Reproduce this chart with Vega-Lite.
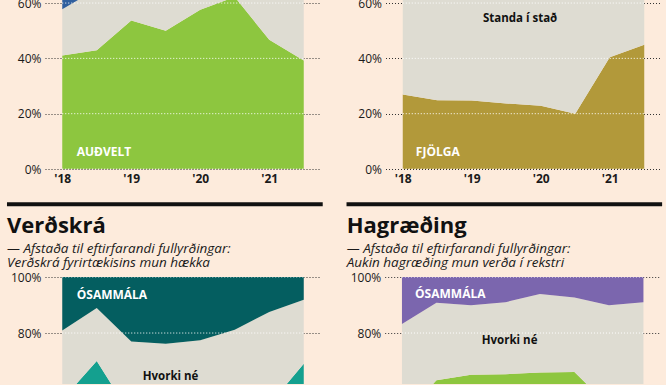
{
  "$schema": "https://vega.github.io/schema/vega-lite/v6.json",
  "background": "#fdebdc",
  "padding": {"left": 6, "top": -3, "right": 6, "bottom": 0},
  "datasets": {
    "d": [
      {"p": "A", "t": 2018.0, "s": "Auðvelt", "k": 1, "v": 41.0},
      {"p": "A", "t": 2018.5, "s": "Auðvelt", "k": 1, "v": 42.9},
      {"p": "A", "t": 2019.0, "s": "Auðvelt", "k": 1, "v": 53.7},
      {"p": "A", "t": 2019.5, "s": "Auðvelt", "k": 1, "v": 50.0},
      {"p": "A", "t": 2020.0, "s": "Auðvelt", "k": 1, "v": 57.6},
      {"p": "A", "t": 2020.5, "s": "Auðvelt", "k": 1, "v": 62.2},
      {"p": "A", "t": 2021.0, "s": "Auðvelt", "k": 1, "v": 46.7},
      {"p": "A", "t": 2021.5, "s": "Auðvelt", "k": 1, "v": 39.2},
      {"p": "A", "t": 2018.0, "s": "Hvorki né", "k": 2, "v": 16.8},
      {"p": "A", "t": 2018.5, "s": "Hvorki né", "k": 2, "v": 22.1},
      {"p": "A", "t": 2019.0, "s": "Hvorki né", "k": 2, "v": 16.3},
      {"p": "A", "t": 2019.5, "s": "Hvorki né", "k": 2, "v": 18.0},
      {"p": "A", "t": 2020.0, "s": "Hvorki né", "k": 2, "v": 14.4},
      {"p": "A", "t": 2020.5, "s": "Hvorki né", "k": 2, "v": 12.8},
      {"p": "A", "t": 2021.0, "s": "Hvorki né", "k": 2, "v": 23.3},
      {"p": "A", "t": 2021.5, "s": "Hvorki né", "k": 2, "v": 26.8},
      {"p": "A", "t": 2018.0, "s": "Erfitt", "k": 3, "v": 42.2},
      {"p": "A", "t": 2018.5, "s": "Erfitt", "k": 3, "v": 35.0},
      {"p": "A", "t": 2019.0, "s": "Erfitt", "k": 3, "v": 30.0},
      {"p": "A", "t": 2019.5, "s": "Erfitt", "k": 3, "v": 32.0},
      {"p": "A", "t": 2020.0, "s": "Erfitt", "k": 3, "v": 28.0},
      {"p": "A", "t": 2020.5, "s": "Erfitt", "k": 3, "v": 25.0},
      {"p": "A", "t": 2021.0, "s": "Erfitt", "k": 3, "v": 30.0},
      {"p": "A", "t": 2021.5, "s": "Erfitt", "k": 3, "v": 34.0},

      {"p": "B", "t": 2018.0, "s": "Fjölga", "k": 1, "v": 26.9},
      {"p": "B", "t": 2018.5, "s": "Fjölga", "k": 1, "v": 24.9},
      {"p": "B", "t": 2019.0, "s": "Fjölga", "k": 1, "v": 24.8},
      {"p": "B", "t": 2019.5, "s": "Fjölga", "k": 1, "v": 23.7},
      {"p": "B", "t": 2020.0, "s": "Fjölga", "k": 1, "v": 22.9},
      {"p": "B", "t": 2020.5, "s": "Fjölga", "k": 1, "v": 20.0},
      {"p": "B", "t": 2021.0, "s": "Fjölga", "k": 1, "v": 40.4},
      {"p": "B", "t": 2021.5, "s": "Fjölga", "k": 1, "v": 44.9},
      {"p": "B", "t": 2018.0, "s": "Standa í stað", "k": 2, "v": 55.1},
      {"p": "B", "t": 2018.5, "s": "Standa í stað", "k": 2, "v": 55.1},
      {"p": "B", "t": 2019.0, "s": "Standa í stað", "k": 2, "v": 56.2},
      {"p": "B", "t": 2019.5, "s": "Standa í stað", "k": 2, "v": 55.3},
      {"p": "B", "t": 2020.0, "s": "Standa í stað", "k": 2, "v": 55.1},
      {"p": "B", "t": 2020.5, "s": "Standa í stað", "k": 2, "v": 52.0},
      {"p": "B", "t": 2021.0, "s": "Standa í stað", "k": 2, "v": 47.6},
      {"p": "B", "t": 2021.5, "s": "Standa í stað", "k": 2, "v": 45.1},
      {"p": "B", "t": 2018.0, "s": "Fækka", "k": 3, "v": 18.0},
      {"p": "B", "t": 2018.5, "s": "Fækka", "k": 3, "v": 20.0},
      {"p": "B", "t": 2019.0, "s": "Fækka", "k": 3, "v": 19.0},
      {"p": "B", "t": 2019.5, "s": "Fækka", "k": 3, "v": 21.0},
      {"p": "B", "t": 2020.0, "s": "Fækka", "k": 3, "v": 22.0},
      {"p": "B", "t": 2020.5, "s": "Fækka", "k": 3, "v": 28.0},
      {"p": "B", "t": 2021.0, "s": "Fækka", "k": 3, "v": 12.0},
      {"p": "B", "t": 2021.5, "s": "Fækka", "k": 3, "v": 10.0},

      {"p": "C", "t": 2018.0, "s": "Sammála", "k": 1, "v": 56.2},
      {"p": "C", "t": 2018.5, "s": "Sammála", "k": 1, "v": 70.0},
      {"p": "C", "t": 2019.0, "s": "Sammála", "k": 1, "v": 50.5},
      {"p": "C", "t": 2019.5, "s": "Sammála", "k": 1, "v": 48.0},
      {"p": "C", "t": 2020.0, "s": "Sammála", "k": 1, "v": 50.0},
      {"p": "C", "t": 2020.5, "s": "Sammála", "k": 1, "v": 52.0},
      {"p": "C", "t": 2021.0, "s": "Sammála", "k": 1, "v": 54.4},
      {"p": "C", "t": 2021.5, "s": "Sammála", "k": 1, "v": 69.0},
      {"p": "C", "t": 2018.0, "s": "Hvorki né", "k": 2, "v": 24.7},
      {"p": "C", "t": 2018.5, "s": "Hvorki né", "k": 2, "v": 18.9},
      {"p": "C", "t": 2019.0, "s": "Hvorki né", "k": 2, "v": 26.5},
      {"p": "C", "t": 2019.5, "s": "Hvorki né", "k": 2, "v": 28.2},
      {"p": "C", "t": 2020.0, "s": "Hvorki né", "k": 2, "v": 27.4},
      {"p": "C", "t": 2020.5, "s": "Hvorki né", "k": 2, "v": 29.2},
      {"p": "C", "t": 2021.0, "s": "Hvorki né", "k": 2, "v": 33.1},
      {"p": "C", "t": 2021.5, "s": "Hvorki né", "k": 2, "v": 22.9},
      {"p": "C", "t": 2018.0, "s": "Ósammála", "k": 3, "v": 19.1},
      {"p": "C", "t": 2018.5, "s": "Ósammála", "k": 3, "v": 11.1},
      {"p": "C", "t": 2019.0, "s": "Ósammála", "k": 3, "v": 23.0},
      {"p": "C", "t": 2019.5, "s": "Ósammála", "k": 3, "v": 23.8},
      {"p": "C", "t": 2020.0, "s": "Ósammála", "k": 3, "v": 22.6},
      {"p": "C", "t": 2020.5, "s": "Ósammála", "k": 3, "v": 18.8},
      {"p": "C", "t": 2021.0, "s": "Ósammála", "k": 3, "v": 12.5},
      {"p": "C", "t": 2021.5, "s": "Ósammála", "k": 3, "v": 8.1},

      {"p": "D", "t": 2018.0, "s": "Sammála", "k": 1, "v": 50.0},
      {"p": "D", "t": 2018.5, "s": "Sammála", "k": 1, "v": 63.1},
      {"p": "D", "t": 2019.0, "s": "Sammála", "k": 1, "v": 65.1},
      {"p": "D", "t": 2019.5, "s": "Sammála", "k": 1, "v": 65.3},
      {"p": "D", "t": 2020.0, "s": "Sammála", "k": 1, "v": 65.9},
      {"p": "D", "t": 2020.5, "s": "Sammála", "k": 1, "v": 66.1},
      {"p": "D", "t": 2021.0, "s": "Sammála", "k": 1, "v": 53.9},
      {"p": "D", "t": 2021.5, "s": "Sammála", "k": 1, "v": 52.0},
      {"p": "D", "t": 2018.0, "s": "Hvorki né", "k": 2, "v": 33.2},
      {"p": "D", "t": 2018.5, "s": "Hvorki né", "k": 2, "v": 27.7},
      {"p": "D", "t": 2019.0, "s": "Hvorki né", "k": 2, "v": 24.8},
      {"p": "D", "t": 2019.5, "s": "Hvorki né", "k": 2, "v": 25.7},
      {"p": "D", "t": 2020.0, "s": "Hvorki né", "k": 2, "v": 28.0},
      {"p": "D", "t": 2020.5, "s": "Hvorki né", "k": 2, "v": 26.6},
      {"p": "D", "t": 2021.0, "s": "Hvorki né", "k": 2, "v": 36.0},
      {"p": "D", "t": 2021.5, "s": "Hvorki né", "k": 2, "v": 39.0},
      {"p": "D", "t": 2018.0, "s": "Ósammála", "k": 3, "v": 16.8},
      {"p": "D", "t": 2018.5, "s": "Ósammála", "k": 3, "v": 9.2},
      {"p": "D", "t": 2019.0, "s": "Ósammála", "k": 3, "v": 10.1},
      {"p": "D", "t": 2019.5, "s": "Ósammála", "k": 3, "v": 9.0},
      {"p": "D", "t": 2020.0, "s": "Ósammála", "k": 3, "v": 6.1},
      {"p": "D", "t": 2020.5, "s": "Ósammála", "k": 3, "v": 7.3},
      {"p": "D", "t": 2021.0, "s": "Ósammála", "k": 3, "v": 10.1},
      {"p": "D", "t": 2021.5, "s": "Ósammála", "k": 3, "v": 9.0}
    ],
    "gTop": [{"g": 0}, {"g": 20}, {"g": 40}, {"g": 60}],
    "gBot": [{"g": 80}, {"g": 100}]
  },
  "config": {
    "view": {"stroke": null},
    "font": "Open Sans",
    "axis": {
      "domain": false,
      "ticks": false,
      "title": null,
      "labelFont": "Open Sans",
      "labelColor": "#1a1a1a",
      "labelFontSize": 12
    },
    "axisY": {
      "grid": true,
      "gridColor": "#333333",
      "gridDash": [1, 2],
      "gridWidth": 1,
      "labelPadding": 4,
      "minExtent": 38
    },
    "axisX": {
      "grid": false,
      "labelFontWeight": "bold",
      "labelPadding": 4,
      "labelFlush": false
    },
    "title": {
      "anchor": "start",
      "frame": "bounds",
      "font": "Open Sans",
      "fontSize": 22,
      "fontWeight": "bold",
      "color": "#111111",
      "subtitleFont": "Open Sans",
      "subtitleFontSize": 13.5,
      "subtitleFontStyle": "italic",
      "subtitleColor": "#1a1a1a",
      "subtitleLineHeight": 14,
      "subtitlePadding": 4,
      "offset": 1
    }
  },
  "resolve": {"scale": {"color": "independent"}},
  "vconcat": [
    {
      "resolve": {"scale": {"color": "independent"}},
      "hconcat": [
        {
          "width": 276, "height": 169,
          "layer": [
            {
              "data": {"name": "d"},
              "transform": [{"filter": "datum.p == 'A'"}],
              "mark": {"type": "area", "clip": true},
              "encoding": {
                "x": {"field": "t", "type": "quantitative", "scale": {"domain": [2017.75, 2021.75], "nice": false, "zero": false}, "axis": {"values": [2018, 2019, 2020, 2021], "labelExpr": "\"'\" + substring(toString(datum.value), 2)"}},
                "y": {"field": "v", "type": "quantitative", "stack": "zero", "scale": {"domain": [0, 61.1], "nice": false}, "axis": {"values": [0, 20, 40, 60], "labelExpr": "datum.value + '%'"}},
                "color": {"field": "s", "type": "nominal", "scale": {"domain": ["Auðvelt", "Hvorki né", "Erfitt"], "range": ["#8dc63f", "#dedcd2", "#2f5f9e"]}, "legend": null},
                "order": {"field": "k", "type": "quantitative"}
              }
            },
            {
              "data": {"name": "gTop"},
              "mark": {"type": "rule", "color": "#ffffff", "strokeDash": [1, 2], "strokeWidth": 1, "clip": true},
              "encoding": {"y": {"field": "g", "type": "quantitative"}, "x": {"datum": 2018}, "x2": {"datum": 2021.5}}
            },
            {
              "data": {"values": [{"lab": "AUÐVELT"}]},
              "mark": {"type": "text", "align": "left", "baseline": "middle", "color": "#ffffff", "fontWeight": "bold", "fontSize": 12},
              "encoding": {"x": {"datum": 2018.21}, "y": {"datum": 6}, "text": {"field": "lab"}}
            },
            {
              "data": {"values": [{"part": "separator"}]},
              "mark": {"type": "rule", "color": "#111111", "strokeWidth": 4, "strokeCap": "square", "clip": false},
              "encoding": {"x": {"datum": 2017.228}, "x2": {"datum": 2021.746}, "y": {"datum": -12.75}}
            }
          ]
        },
        {
          "width": 276, "height": 169,
          "layer": [
            {
              "data": {"name": "d"},
              "transform": [{"filter": "datum.p == 'B'"}],
              "mark": {"type": "area", "clip": true},
              "encoding": {
                "x": {"field": "t", "type": "quantitative", "scale": {"domain": [2017.75, 2021.75], "nice": false, "zero": false}, "axis": {"values": [2018, 2019, 2020, 2021], "labelExpr": "\"'\" + substring(toString(datum.value), 2)"}},
                "y": {"field": "v", "type": "quantitative", "stack": "zero", "scale": {"domain": [0, 61.1], "nice": false}, "axis": {"values": [0, 20, 40, 60], "labelExpr": "datum.value + '%'"}},
                "color": {"field": "s", "type": "nominal", "scale": {"domain": ["Fjölga", "Standa í stað", "Fækka"], "range": ["#b2993a", "#dedcd2", "#8a3a2a"]}, "legend": null},
                "order": {"field": "k", "type": "quantitative"}
              }
            },
            {
              "data": {"name": "gTop"},
              "mark": {"type": "rule", "color": "#ffffff", "strokeDash": [1, 2], "strokeWidth": 1, "clip": true},
              "encoding": {"y": {"field": "g", "type": "quantitative"}, "x": {"datum": 2018}, "x2": {"datum": 2021.5}}
            },
            {
              "data": {"values": [{"lab": "FJÖLGA"}]},
              "mark": {"type": "text", "align": "left", "baseline": "middle", "color": "#ffffff", "fontWeight": "bold", "fontSize": 12},
              "encoding": {"x": {"datum": 2018.19}, "y": {"datum": 6}, "text": {"field": "lab"}}
            },
            {
              "data": {"values": [{"lab": "Standa í stað"}]},
              "mark": {"type": "text", "align": "center", "baseline": "middle", "color": "#111111", "fontWeight": "bold", "fontSize": 11.5},
              "encoding": {"x": {"datum": 2019.7}, "y": {"datum": 54.4}, "text": {"field": "lab"}}
            },
            {
              "data": {"values": [{"part": "separator"}]},
              "mark": {"type": "rule", "color": "#111111", "strokeWidth": 4, "strokeCap": "square", "clip": false},
              "encoding": {"x": {"datum": 2017.214}, "x2": {"datum": 2021.73}, "y": {"datum": -12.75}}
            }
          ]
        }
      ],
      "spacing": 21.5
    },
    {
      "resolve": {"scale": {"color": "independent"}},
      "hconcat": [
        {
          "width": 276, "height": 107,
          "title": {"text": "Verðskrá", "subtitle": ["— Afstaða til eftirfarandi fullyrðingar:", "Verðskrá fyrirtækisins mun hækka"]},
          "layer": [
            {
              "data": {"name": "d"},
              "transform": [{"filter": "datum.p == 'C'"}],
              "mark": {"type": "area", "clip": true},
              "encoding": {
                "x": {"field": "t", "type": "quantitative", "scale": {"domain": [2017.75, 2021.75], "nice": false, "zero": false}, "axis": {"values": [2018, 2019, 2020, 2021], "labelExpr": "\"'\" + substring(toString(datum.value), 2)"}},
                "y": {"field": "v", "type": "quantitative", "stack": "zero", "scale": {"domain": [61.8, 100], "nice": false}, "axis": {"values": [80, 100], "labelExpr": "datum.value + '%'"}},
                "color": {"field": "s", "type": "nominal", "scale": {"domain": ["Sammála", "Hvorki né", "Ósammála"], "range": ["#14a08f", "#dedcd2", "#045e60"]}, "legend": null},
                "order": {"field": "k", "type": "quantitative"}
              }
            },
            {
              "data": {"name": "gBot"},
              "mark": {"type": "rule", "color": "#ffffff", "strokeDash": [1, 2], "strokeWidth": 1, "clip": true},
              "encoding": {"y": {"field": "g", "type": "quantitative"}, "x": {"datum": 2018}, "x2": {"datum": 2021.5}}
            },
            {
              "data": {"values": [{"lab": "ÓSAMMÁLA"}]},
              "mark": {"type": "text", "align": "left", "baseline": "middle", "color": "#ffffff", "fontWeight": "bold", "fontSize": 12},
              "encoding": {"x": {"datum": 2018.21}, "y": {"datum": 93.7}, "text": {"field": "lab"}}
            },
            {
              "data": {"values": [{"lab": "Hvorki né"}]},
              "mark": {"type": "text", "align": "center", "baseline": "middle", "color": "#111111", "fontWeight": "bold", "fontSize": 11.5},
              "encoding": {"x": {"datum": 2019.57}, "y": {"datum": 64.3}, "text": {"field": "lab"}}
            }
          ]
        },
        {
          "width": 276, "height": 107,
          "title": {"text": "Hagræðing", "subtitle": ["— Afstaða til eftirfarandi fullyrðingar:", "Aukin hagræðing mun verða í rekstri"]},
          "layer": [
            {
              "data": {"name": "d"},
              "transform": [{"filter": "datum.p == 'D'"}],
              "mark": {"type": "area", "clip": true},
              "encoding": {
                "x": {"field": "t", "type": "quantitative", "scale": {"domain": [2017.75, 2021.75], "nice": false, "zero": false}, "axis": {"values": [2018, 2019, 2020, 2021], "labelExpr": "\"'\" + substring(toString(datum.value), 2)"}},
                "y": {"field": "v", "type": "quantitative", "stack": "zero", "scale": {"domain": [61.8, 100], "nice": false}, "axis": {"values": [80, 100], "labelExpr": "datum.value + '%'"}},
                "color": {"field": "s", "type": "nominal", "scale": {"domain": ["Sammála", "Hvorki né", "Ósammála"], "range": ["#8dc63f", "#dedcd2", "#7b66ae"]}, "legend": null},
                "order": {"field": "k", "type": "quantitative"}
              }
            },
            {
              "data": {"name": "gBot"},
              "mark": {"type": "rule", "color": "#ffffff", "strokeDash": [1, 2], "strokeWidth": 1, "clip": true},
              "encoding": {"y": {"field": "g", "type": "quantitative"}, "x": {"datum": 2018}, "x2": {"datum": 2021.5}}
            },
            {
              "data": {"values": [{"lab": "ÓSAMMÁLA"}]},
              "mark": {"type": "text", "align": "left", "baseline": "middle", "color": "#ffffff", "fontWeight": "bold", "fontSize": 12},
              "encoding": {"x": {"datum": 2018.19}, "y": {"datum": 93.8}, "text": {"field": "lab"}}
            },
            {
              "data": {"values": [{"lab": "Hvorki né"}]},
              "mark": {"type": "text", "align": "center", "baseline": "middle", "color": "#111111", "fontWeight": "bold", "fontSize": 11.5},
              "encoding": {"x": {"datum": 2019.56}, "y": {"datum": 77.0}, "text": {"field": "lab"}}
            }
          ]
        }
      ],
      "spacing": 25.7
    }
  ],
  "spacing": 6
}
